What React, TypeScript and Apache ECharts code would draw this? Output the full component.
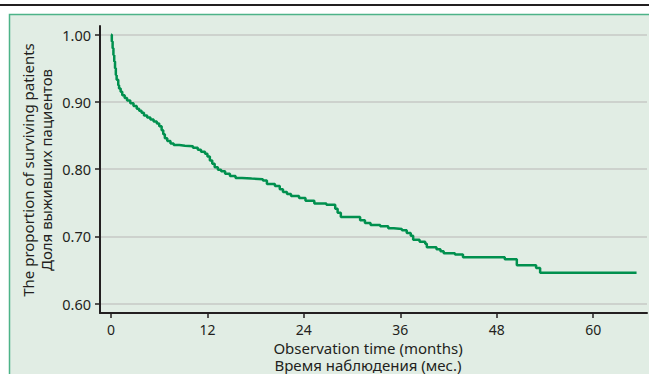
import React, { useEffect, useRef } from "react";
import * as echarts from "echarts";

const months = [
  0, 0.1, 0.2, 0.3, 0.4, 0.5, 0.6, 0.7, 0.9, 1.0, 1.2, 1.4, 1.7, 2.0, 2.4, 2.8,
  3.2, 3.5, 3.8, 4.1, 4.5, 4.9, 5.3, 5.7, 6.0, 6.3, 6.5, 6.7, 7.0, 7.4, 7.8,
  8.5, 9.2, 10.2, 10.8, 11.2, 11.7, 12.0, 12.3, 12.6, 12.9, 13.3, 13.7, 14.2,
  14.8, 15.5, 16.3, 17.5, 18.9, 19.4, 20.4, 21.0, 21.4, 21.9, 22.4, 23.4, 24.2,
  25.3, 26.8, 27.9, 28.2, 28.6, 31.0, 31.6, 32.3, 33.5, 34.5, 35.2, 36.2, 36.8,
  37.3, 37.6, 38.4, 39.1, 39.3, 40.5, 41.0, 41.4, 42.8, 43.8, 49.0, 50.5, 52.9,
  53.4, 65.4,
];
const survival = [
  1.0, 0.99, 0.98, 0.97, 0.96, 0.95, 0.94, 0.933, 0.925, 0.92, 0.915, 0.91,
  0.906, 0.902, 0.898, 0.894, 0.89, 0.887, 0.884, 0.88, 0.877, 0.874, 0.871,
  0.868, 0.864, 0.858, 0.852, 0.846, 0.842, 0.838, 0.836, 0.835, 0.834, 0.832,
  0.829, 0.826, 0.823, 0.819, 0.813, 0.808, 0.803, 0.799, 0.797, 0.793, 0.79,
  0.787, 0.786, 0.785, 0.783, 0.778, 0.775, 0.77, 0.766, 0.763, 0.76, 0.757,
  0.753, 0.749, 0.747, 0.741, 0.735, 0.729, 0.724, 0.72, 0.717, 0.715, 0.712,
  0.711, 0.709, 0.705, 0.701, 0.695, 0.692, 0.689, 0.684, 0.681, 0.678, 0.675,
  0.673, 0.669, 0.666, 0.657, 0.653, 0.646, 0.646,
];
const xTicks = [0, 12, 24, 36, 48, 60];
const yTicks = [0.6, 0.7, 0.8, 0.9, 1.0];

const xTitle = "Observation time (months)";
const xTitleRu = "Время наблюдения (мес.)";
const yTitle = "The proportion of surviving patients";
const yTitleRu = "Доля выживших пациентов";

const FONT = "'Noto Sans', sans-serif";
const INK = "#231f20";

export default function App() {
  const ref = useRef<HTMLDivElement>(null);
  useEffect(() => {
    if (!ref.current) return;
    const chart = echarts.init(ref.current, undefined, { renderer: "svg" });
    const title = (text: string, x: number, y: number, rotate: boolean, lh: number) => ({
      type: "text",
      x,
      y,
      rotation: rotate ? Math.PI / 2 : 0,
      style: {
        text,
        fontSize: 15,
        fontFamily: FONT,
        lineHeight: lh,
        fill: INK,
        align: "center",
        verticalAlign: "middle",
      },
    });
    chart.setOption({
      animation: false,
      backgroundColor: "#ffffff",
      textStyle: { fontFamily: FONT },
      graphic: [
        {
          type: "line",
          shape: { x1: 0, y1: 5, x2: 649, y2: 5 },
          style: { stroke: INK, lineWidth: 2 },
          z: -10,
        },
        {
          type: "rect",
          shape: { x: 9.5, y: 14.5, width: 700, height: 400 },
          style: { fill: "#e1ede4", stroke: "#4db388", lineWidth: 1.5 },
          z: -10,
        },
        title(yTitle + "\n" + yTitleRu, 37, 170, true, 18),
        title(xTitle + "\n" + xTitleRu, 368, 356, false, 17),
      ],
      grid: { left: 100, top: 26, right: 2, bottom: 61 },
      xAxis: {
        type: "value",
        min: -1.37,
        max: 66.7,
        axisLine: { show: true, onZero: false, lineStyle: { color: INK, width: 2 } },
        axisTick: {
          show: true,
          length: 5,
          customValues: xTicks,
          lineStyle: { color: INK, width: 1.5 },
        },
        axisLabel: {
          customValues: xTicks,
          margin: 9,
          fontSize: 14,
          lineHeight: 14,
          color: INK,
          fontFamily: FONT,
          formatter: (v: number) => String(v),
        },
        splitLine: { show: false },
      },
      yAxis: {
        type: "value",
        min: 0.586,
        max: 1.013,
        axisLine: { show: true, onZero: false, lineStyle: { color: INK, width: 2 } },
        axisTick: {
          show: true,
          length: 5,
          customValues: yTicks,
          lineStyle: { color: INK, width: 1.5 },
        },
        axisLabel: {
          customValues: yTicks,
          margin: 9,
          fontSize: 14.5,
          color: INK,
          fontFamily: FONT,
          formatter: (v: number) => v.toFixed(2),
        },
        splitLine: {
          show: true,
          customValues: yTicks,
          lineStyle: { color: "#c6c9c6", width: 1.5 },
        },
      },
      series: [
        {
          type: "line",
          step: "end",
          showSymbol: false,
          symbol: "none",
          data: months.map((m, i) => [m, survival[i]]),
          lineStyle: { color: "#00904e", width: 2.5 },
          z: 5,
        },
      ],
    });
    return () => chart.dispose();
  }, []);
  return (
    <div
      ref={ref}
      style={{ position: "fixed", left: 0, top: 0, width: 649, height: 374 }}
    />
  );
}
